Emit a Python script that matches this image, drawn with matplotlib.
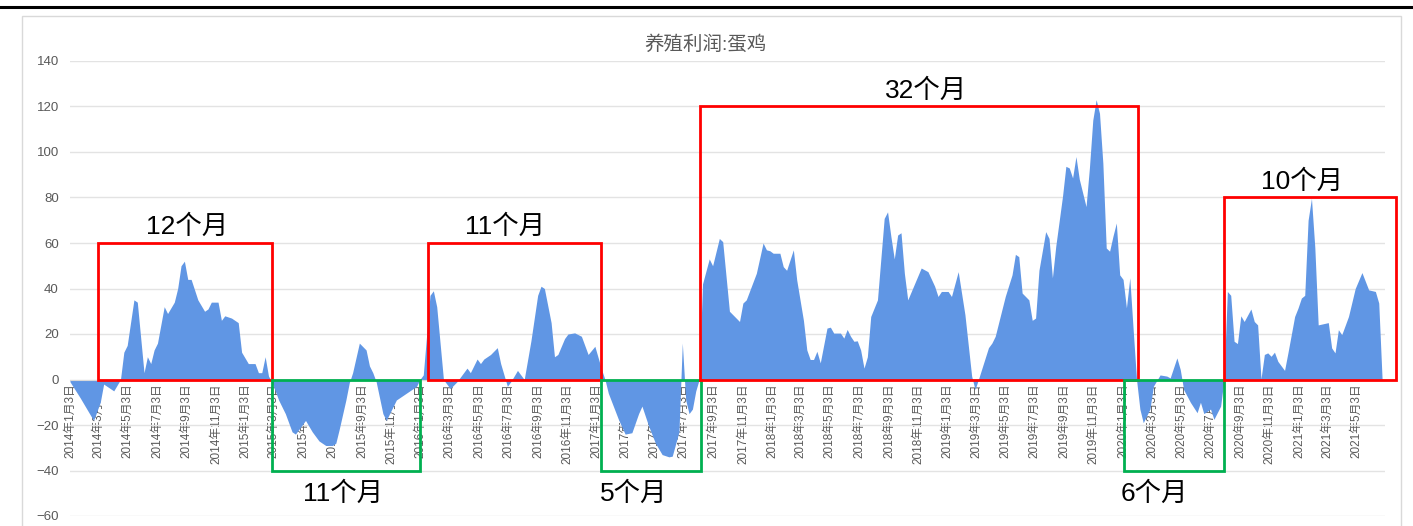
import numpy as np
import pandas as pd
import matplotlib
matplotlib.use('Agg')
import matplotlib.pyplot as plt
import matplotlib.dates as mdates
from matplotlib.patches import Rectangle
from matplotlib.lines import Line2D

plt.rcParams['font.family'] = ['Liberation Sans', 'Noto Sans CJK SC', 'DejaVu Sans']

# weekly series, week number counted from the first observation
start_date = '2014-01-03'
weeks = [0, 3, 7, 9, 10, 13, 15, 16, 17, 19, 20, 22, 23, 24, 25, 26, 28, 29, 31, 32,
         33, 34, 35, 36, 38, 40, 41, 42, 44, 45, 46, 48, 50, 51, 53, 55, 56, 57, 58, 59,
         60, 62, 64, 66, 67, 70, 72, 74, 76, 78, 79, 80, 82, 83, 84, 86, 88, 89, 90, 91,
         93, 94, 96, 97, 99, 101, 103, 104, 105, 107, 108, 109, 111, 113, 115, 117, 118, 119, 121, 122,
         123, 125, 127, 128, 130, 131, 133, 134, 135, 137, 139, 140, 141, 143, 144, 145, 147, 148, 150, 152,
         154, 156, 157, 158, 159, 160, 163, 165, 167, 169, 170, 172, 174, 176, 178, 179, 181, 182, 183, 184,
         185, 186, 187, 188, 190, 191, 193, 194, 196, 199, 200, 201, 204, 206, 207, 208, 209, 211, 212, 213,
         215, 216, 218, 219, 220, 221, 222, 223, 225, 226, 227, 229, 230, 231, 232, 233, 234, 235, 236, 237,
         238, 240, 242, 243, 244, 245, 246, 247, 248, 249, 251, 253, 255, 257, 258, 259, 261, 262, 264, 266,
         268, 269, 270, 273, 274, 275, 278, 280, 281, 282, 283, 285, 286, 287, 288, 290, 291, 292, 293, 295,
         296, 297, 298, 299, 300, 302, 303, 304, 305, 306, 307, 308, 309, 310, 311, 312, 313, 314, 315, 316,
         317, 318, 319, 321, 322, 324, 326, 327, 329, 330, 331, 333, 335, 336, 337, 339, 340, 342, 343, 344,
         345, 346, 347, 348, 349, 351, 352, 353, 354, 355, 356, 357, 358, 359, 361, 362, 364, 365, 366, 367,
         368, 369, 370, 371, 374, 375, 376, 377, 378, 380, 382, 384, 386, 388, 389, 390]
profit = [-1, -8, -18, -10, -2, -5, 0, 12, 15, 35, 34, 3, 10, 7, 13, 16, 32, 29, 34, 40,
          50, 52, 44, 44, 35, 30, 31, 34, 34, 26, 28, 27, 25, 12, 7, 7, 3, 3, 10, 1.5,
          -1, -9, -15, -23, -24, -18, -23, -27, -29, -29, -28, -22, -9, -1.5, 3, 16, 13, 6, 3, -1,
          -15, -18, -12, -9, -7, -5, -3, 0, 2, 37, 39, 32, 0, -4, -1, 3, 5, 3, 9, 7,
          9, 11, 14, 7, -3, -1, 4, 2, 0, 17, 37, 41, 40, 25, 10, 11, 18, 20, 20.5, 19,
          11, 14.6, 9.5, 4.4, 0, -6, -17.5, -24, -23.4, -15, -11.7, -20.5, -28, -33, -34, -33.7, -23, 16, -9, -15,
          -13, -5, 0, 42, 53, 50, 62, 60.6, 30, 25.5, 33.6, 35, 46.7, 60, 57, 56.6, 55.5, 55.5, 49.6, 48,
          57, 43.8, 26, 13, 8.8, 8.8, 12.4, 7.3, 22.6, 23, 20.4, 20.4, 18.2, 22, 19, 16.8, 17, 13, 5, 10,
          27.7, 35, 70.8, 73.7, 62.8, 53, 63.5, 64.5, 46.7, 35, 42, 49, 47.4, 41, 36.5, 38.7, 38.7, 36.5, 47.4, 28.5,
          1.5, -4.4, 0, 14, 16, 19, 36.6, 46, 55, 54, 38, 35, 26, 27, 48, 65, 62, 44.7, 58.6, 80.5,
          93.7, 93, 88.6, 98, 88, 76, 93, 114, 123, 117, 95, 57.8, 56.4, 63, 68.8, 46, 44, 31.5, 44.7, 22,
          0, -13, -19, -13, -3, 2, 1.5, 0.7, 9.5, 4.4, -4.4, -10, -14.6, -10, -15, -13, -17.5, -11.7, 0, 38.7,
          37, 16.8, 15.8, 28, 25.5, 31, 25.5, 24, 0.3, 11, 11.7, 10.2, 12, 8, 4, 11.7, 27.7, 31.4, 35.8, 37,
          70, 79.6, 58, 24, 25, 13.9, 11.7, 21.9, 19.7, 27.7, 40, 47, 39.4, 38.7, 33.6, 0]

# highlighted periods: start, end, value range, colour, label, label centre
periods = [
    ('2014-03-03', '2015-02-27', 0, 60, '#ff0000', '12个月', '2014-09-03'),
    ('2015-02-27', '2016-01-02', -40, 0, '#00b050', '11个月', '2015-07-26'),
    ('2016-01-18', '2017-01-11', 0, 60, '#ff0000', '11个月', '2016-06-27'),
    ('2017-01-11', '2017-08-07', -40, 0, '#00b050', '5个月', '2017-03-21'),
    ('2017-08-05', '2020-02-03', 0, 120, '#ff0000', '32个月', '2018-11-19'),
    ('2020-01-05', '2020-07-30', -40, 0, '#00b050', '6个月', '2020-03-08'),
    ('2020-07-30', '2021-07-23', 0, 80, '#ff0000', '10个月', '2021-01-10'),
]

dates = pd.Timestamp(start_date) + pd.to_timedelta(np.array(weeks) * 7, unit='D')

fig = plt.figure(figsize=(14.13, 5.26), dpi=100)
ax = fig.add_axes([70 / 1413, 10 / 526, 1315 / 1413, 455 / 526])

# outer frame like the screenshot
fig.add_artist(Line2D([0, 1], [1 - 7 / 526, 1 - 7 / 526], color='black', lw=2.2,
                      transform=fig.transFigure))
fig.add_artist(Rectangle((22 / 1413, -0.05), 1379 / 1413, 1.05 - 16 / 526,
                         transform=fig.transFigure, fill=False, edgecolor='#d9d9d9', lw=1))

ax.fill_between(dates, profit, 0, color='#6096e4', lw=0, zorder=2)

ax.set_xlim(pd.Timestamp('2014-01-03'), pd.Timestamp('2021-07-01'))
ax.set_ylim(-60, 140)
ax.set_yticks(range(-60, 141, 20))
ax.grid(axis='y', color='#e3e3e3', lw=1)
ax.set_axisbelow(True)
for s in ['top', 'right', 'left']:
    ax.spines[s].set_visible(False)
ax.spines['bottom'].set_position(('data', 0))
ax.spines['bottom'].set_color('#d9d9d9')

ax.xaxis.set_major_locator(mdates.MonthLocator(bymonth=[1, 3, 5, 7, 9, 11], bymonthday=3))
ax.xaxis.set_major_formatter(plt.FuncFormatter(
    lambda v, p: (lambda d: f'{d.year}年{d.month}月{d.day}日')(mdates.num2date(v))))
ax.tick_params(axis='x', length=0, pad=3, labelsize=8.5, labelcolor='#595959', labelrotation=90)
ax.tick_params(axis='y', length=0, pad=8, labelsize=9.5, labelcolor='#595959')

for x0, x1, lo, hi, col, label, lx in periods:
    a, b = mdates.date2num(pd.Timestamp(x0)), mdates.date2num(pd.Timestamp(x1))
    ax.add_patch(Rectangle((a, lo), b - a, hi - lo, fill=False, edgecolor=col, lw=2,
                           zorder=5, clip_on=False))
    ty = hi + 7 if hi > 0 else lo - 10
    ax.text(pd.Timestamp(lx), ty, label, ha='center', va='center', fontsize=19,
            color='black', zorder=6)

fig.text(705 / 1413, 1 - 45 / 526, '养殖利润:蛋鸡', ha='center', va='center',
         fontsize=14, color='#595959')

fig.savefig('out.png', dpi=100)
